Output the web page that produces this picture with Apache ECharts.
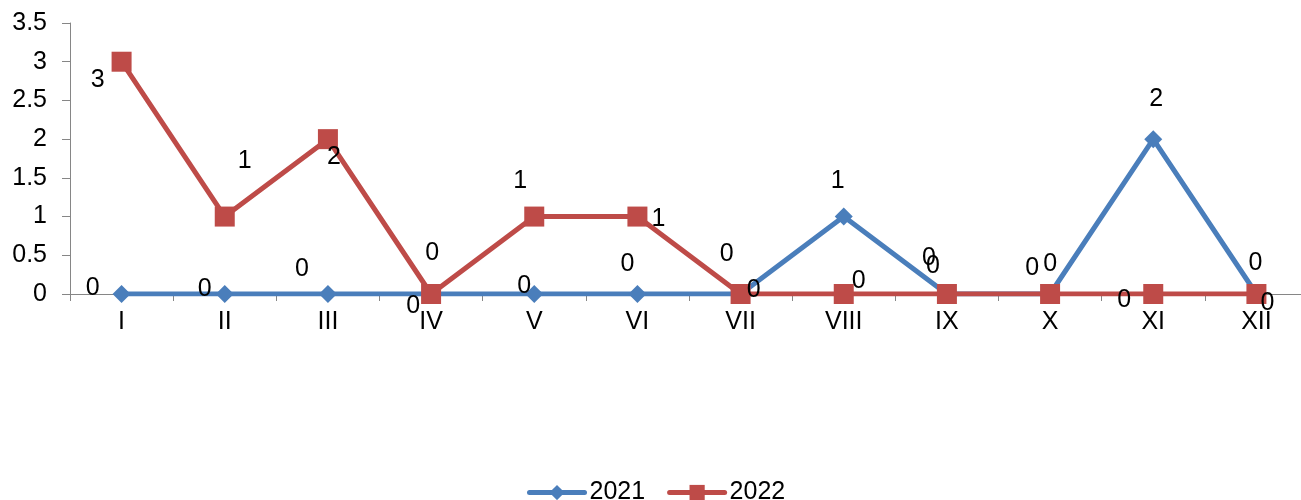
<!DOCTYPE html>
<html>
<head>
<meta charset="utf-8">
<script src="https://cdn.jsdelivr.net/npm/echarts@6/dist/echarts.min.js"></script>
<style>
html,body{margin:0;padding:0;background:#fff;}
#chart{width:1301px;height:500px;}
</style>
</head>
<body>
<div id="chart"></div>
<script>
var categories = ['I','II','III','IV','V','VI','VII','VIII','IX','X','XI','XII'];
var seriesNames = ['2021','2022'];
var values2021 = [0,0,0,0,0,0,0,1,0,0,2,0];
var values2022 = [3,1,2,0,1,1,0,0,0,0,0,0];
var yTicks = {min:0, max:3.5, interval:0.5};

// label offsets (style only, relative to each point)
var offsets2021 = [[-29,-6],[-20,-5],[-26,-25],[1,-41],[-10,-8],[-10,-30],[-14,-40],[-6,-35],[-18,-36],[0,-30],[3,-40],[-1,-31]];
var offsets2022 = [[-24,18],[20,-55],[6,18],[-18,12],[-14,-35],[21,3],[13,-4],[15,-13],[-14,-28],[-18,-26],[-29,6],[11,9]];

var FONT = '"Liberation Sans", Arial, sans-serif';
var BLUE = '#4A7EBB', RED = '#BE4B48';
var FS = 25;

function buildData(vals, offs){
  return vals.map(function(v,i){
    return {value:v, label:{offset:offs[i]}};
  });
}

var chart = echarts.init(document.getElementById('chart'), null, {renderer:'canvas'});
chart.setOption({
  animation:false,
  textStyle:{fontFamily:FONT},
  grid:{left:70, top:23, width:1238, height:271, containLabel:false, outerBoundsMode:'none'},
  legend:{
    data:[
      {name:seriesNames[0], lineStyle:{color:BLUE, width:5, cap:'round'}, itemStyle:{color:BLUE}},
      {name:seriesNames[1], lineStyle:{color:RED, width:5, cap:'round'}, itemStyle:{color:RED}}
    ],
    left:522, top:475,
    itemWidth:55, itemHeight:19, itemGap:22,
    textStyle:{fontSize:FS, color:'#000', fontFamily:FONT}
  },
  xAxis:{
    type:'category',
    data:categories,
    boundaryGap:true,
    axisLine:{show:true, lineStyle:{color:'#868686', width:1}},
    axisTick:{show:true, alignWithLabel:false, length:7, lineStyle:{color:'#868686'}},
    axisLabel:{fontSize:FS, color:'#000', margin:16, fontFamily:FONT, interval:0},
    splitLine:{show:false}
  },
  yAxis:{
    type:'value',
    min:yTicks.min, max:yTicks.max, interval:yTicks.interval,
    axisLine:{show:true, lineStyle:{color:'#868686', width:1}},
    axisTick:{show:true, length:8, lineStyle:{color:'#868686'}},
    axisLabel:{fontSize:FS, color:'#000', margin:23, fontFamily:FONT},
    splitLine:{show:false}
  },
  series:[
    {
      name:seriesNames[0], type:'line',
      data:buildData(values2021, offsets2021),
      symbol:'diamond', symbolSize:18,
      lineStyle:{color:BLUE, width:5},
      itemStyle:{color:BLUE},
      label:{show:true, position:'inside', fontSize:FS, color:'#000', fontFamily:FONT},
      z:2
    },
    {
      name:seriesNames[1], type:'line',
      data:buildData(values2022, offsets2022),
      symbol:'rect', symbolSize:20,
      lineStyle:{color:RED, width:5},
      itemStyle:{color:RED},
      label:{show:true, position:'inside', fontSize:FS, color:'#000', fontFamily:FONT},
      z:3
    }
  ]
});
</script>
</body>
</html>
